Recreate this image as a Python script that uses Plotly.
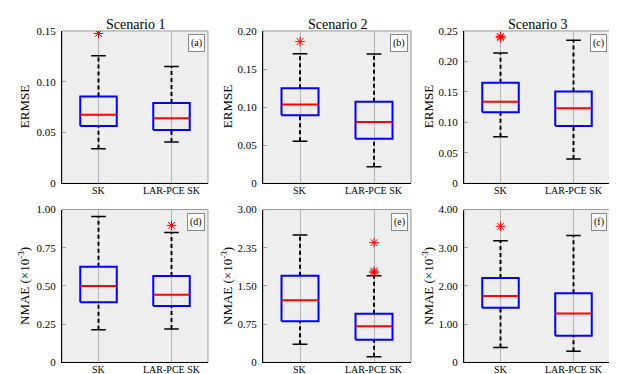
import plotly.graph_objects as go

# categories
scenarios = ["Scenario 1", "Scenario 2", "Scenario 3"]
methods = ["SK", "LAR-PCE SK"]
panel_tags = ["(a)", "(b)", "(c)", "(d)", "(e)", "(f)"]

# ERMSE box stats, per scenario: [SK, LAR-PCE SK]
ermse_lower = [[0.0342, 0.0406], [0.0553, 0.0217], [0.0766, 0.0399]]
ermse_q1 = [[0.0564, 0.0526], [0.0894, 0.0587], [0.1165, 0.0941]]
ermse_median = [[0.0675, 0.0640], [0.1034, 0.0804], [0.1340, 0.1234]]
ermse_q3 = [[0.0856, 0.0790], [0.1247, 0.1072], [0.1649, 0.1505]]
ermse_upper = [[0.1256, 0.1151], [0.1700, 0.1698], [0.2138, 0.2346]]
ermse_outliers = [[[0.1475], []], [[0.186], []], [[0.241, 0.2388], []]]

# NMAE (x10^-3) box stats
nmae_lower = [[0.214, 0.218], [0.356, 0.114], [0.39, 0.29]]
nmae_q1 = [[0.394, 0.369], [0.807, 0.445], [1.43, 0.70]]
nmae_median = [[0.500, 0.443], [1.22, 0.712], [1.74, 1.28]]
nmae_q3 = [[0.625, 0.566], [1.70, 0.954], [2.21, 1.81]]
nmae_upper = [[0.955, 0.850], [2.50, 1.70], [3.18, 3.32]]
nmae_outliers = [[[], [0.896]], [[], [2.35, 1.79, 1.76]], [[3.56], []]]

# y axes ticks
ermse_ticks = [[0, 0.05, 0.10, 0.15], [0, 0.05, 0.10, 0.15, 0.20],
               [0, 0.05, 0.10, 0.15, 0.20, 0.25]]
ermse_ticktext = [["0", "0.05", "0.10", "0.15"], ["0", "0.05", "0.10", "0.15", "0.20"],
                  ["0", "0.05", "0.10", "0.15", "0.20", "0.25"]]
nmae_ticks = [[0, 0.25, 0.5, 0.75, 1.0], [0, 0.75, 1.5, 2.25, 3.0], [0, 1, 2, 3, 4]]
nmae_ticktext = [["0", "0.25", "0.50", "0.75", "1.00"], ["0", "0.75", "1.50", "2.35", "3.00"],
                 ["0", "1.00", "2.00", "3.00", "4.00"]]

W, H = 617, 374
col_px = [(54, 200), (255, 403), (456, 602)]
row_px = [(17.5, 175), (202, 360)]

FONT = "Liberation Serif"
BOX_HALF = 0.25
CAP_HALF = 0.1
pos = [1, 2]

metrics = [
    ("ERMSE", ermse_lower, ermse_q1, ermse_median, ermse_q3, ermse_upper, ermse_outliers,
     ermse_ticks, ermse_ticktext),
    ("NMAE (×10<sup>-3</sup>)", nmae_lower, nmae_q1, nmae_median, nmae_q3, nmae_upper,
     nmae_outliers, nmae_ticks, nmae_ticktext),
]

fig = go.Figure()
layout = {}
annotations = []
shapes = []

for r, (title, lo, q1, med, q3, up, outl, tks, tkt) in enumerate(metrics):
    for c in range(3):
        k = r * 3 + c + 1
        xa = "x" if k == 1 else f"x{k}"
        ya = "y" if k == 1 else f"y{k}"
        xkey = "xaxis" if k == 1 else f"xaxis{k}"
        ykey = "yaxis" if k == 1 else f"yaxis{k}"

        # whiskers (dashed) + caps
        wx, wy, cx, cy = [], [], [], []
        for j, p in enumerate(pos):
            wx += [p, p, None, p, p, None]
            wy += [q3[c][j], up[c][j], None, lo[c][j], q1[c][j], None]
            cx += [p - CAP_HALF, p + CAP_HALF, None, p - CAP_HALF, p + CAP_HALF, None]
            cy += [up[c][j], up[c][j], None, lo[c][j], lo[c][j], None]
        fig.add_trace(go.Scatter(x=wx, y=wy, mode="lines", xaxis=xa, yaxis=ya,
                                 line=dict(color="black", width=2, dash="4px,3px"),
                                 showlegend=False, hoverinfo="skip"))
        fig.add_trace(go.Scatter(x=cx, y=cy, mode="lines", xaxis=xa, yaxis=ya,
                                 line=dict(color="black", width=1.5),
                                 showlegend=False, hoverinfo="skip"))

        # boxes (q1..q3)
        bx, by = [], []
        for j, p in enumerate(pos):
            bx += [p - BOX_HALF, p + BOX_HALF, p + BOX_HALF, p - BOX_HALF, p - BOX_HALF, None]
            by += [q1[c][j], q1[c][j], q3[c][j], q3[c][j], q1[c][j], None]
        fig.add_trace(go.Scatter(x=bx, y=by, mode="lines", xaxis=xa, yaxis=ya,
                                 line=dict(color="#0000FF", width=2),
                                 showlegend=False, hoverinfo="skip"))

        # medians
        mx, my = [], []
        for j, p in enumerate(pos):
            mx += [p - BOX_HALF, p + BOX_HALF, None]
            my += [med[c][j], med[c][j], None]
        fig.add_trace(go.Scatter(x=mx, y=my, mode="lines", xaxis=xa, yaxis=ya,
                                 line=dict(color="#FF0000", width=2),
                                 showlegend=False, hoverinfo="skip"))

        # outliers
        ox, oy = [], []
        for j, p in enumerate(pos):
            ox += [p] * len(outl[c][j])
            oy += outl[c][j]
        fig.add_trace(go.Scatter(x=ox, y=oy, mode="markers", xaxis=xa, yaxis=ya,
                                 marker=dict(symbol="asterisk-open", size=8, color="#FF0000",
                                             line=dict(color="#FF0000", width=1)),
                                 showlegend=False))

        x0, x1 = col_px[c]
        yt, yb = row_px[r]
        yr = [0, tks[c][-1]]
        layout[xkey] = dict(domain=[x0 / W, x1 / W], anchor=ya, range=[0.5, 2.5],
                            tickvals=pos, showticklabels=False, ticks="",
                            showgrid=True, gridcolor="#B4B4B4", gridwidth=1,
                            showline=True, linecolor="black", linewidth=1.2,
                            zeroline=False)
        layout[ykey] = dict(domain=[1 - yb / H, 1 - yt / H], anchor=xa, range=yr,
                            tickvals=tks[c], ticktext=tkt[c], ticks="inside", ticklen=4,
                            tickcolor="#999999", showgrid=False, zeroline=False,
                            showline=True, linecolor="black", linewidth=1.2,
                            ticklabelstandoff=3,
                            tickfont=dict(family=FONT, size=11, color="black"))
        # right-side mirrored ticks
        rk = k + 6
        layout[f"yaxis{rk}"] = dict(overlaying=ya, anchor=xa, side="right", range=yr,
                                    tickvals=tks[c], ticks="inside", ticklen=4,
                                    tickcolor="#999999", showticklabels=False,
                                    showgrid=False, zeroline=False, showline=False)

        # frame
        shapes.append(dict(type="rect", xref=f"{xa} domain", yref=f"{ya} domain",
                           x0=0, x1=1, y0=0, y1=1, layer="below",
                           line=dict(color="#999999", width=1)))

        # category labels
        for j, p in enumerate(pos):
            annotations.append(dict(text=methods[j], xref=xa, yref=f"{ya} domain",
                                    x=p, y=0, yshift=-7, xanchor="center",
                                    yanchor="middle", showarrow=False,
                                    font=dict(family=FONT, size=10, color="black")))

        # axis title
        annotations.append(dict(text=title, xref=f"{xa} domain", yref=f"{ya} domain",
                                x=0, y=0.5, xshift=-38 if c == 0 else -36,
                                textangle=-90, showarrow=False,
                                xanchor="center", yanchor="middle",
                                font=dict(family=FONT, size=13, color="black")))
        # panel tag
        annotations.append(dict(text=panel_tags[k - 1], xref=f"{xa} domain",
                                yref=f"{ya} domain", x=1, y=1, xshift=-3, yshift=-3,
                                xanchor="right", yanchor="top", showarrow=False,
                                bgcolor="white", bordercolor="#888888", borderwidth=1,
                                borderpad=2, font=dict(family=FONT, size=10, color="black")))
        if r == 0:
            annotations.append(dict(text=scenarios[c], xref=f"{xa} domain", yref="paper",
                                    x=0.5, y=1 - 11 / H, xanchor="center",
                                    yanchor="middle", showarrow=False,
                                    font=dict(family=FONT, size=14, color="black")))

fig.update_layout(
    width=W, height=H,
    margin=dict(l=0, r=0, t=0, b=0),
    paper_bgcolor="white",
    plot_bgcolor="#EEEEEE",
    font=dict(family=FONT, color="black"),
    annotations=annotations,
    shapes=shapes,
    **layout,
)

fig.write_html("out.html")
